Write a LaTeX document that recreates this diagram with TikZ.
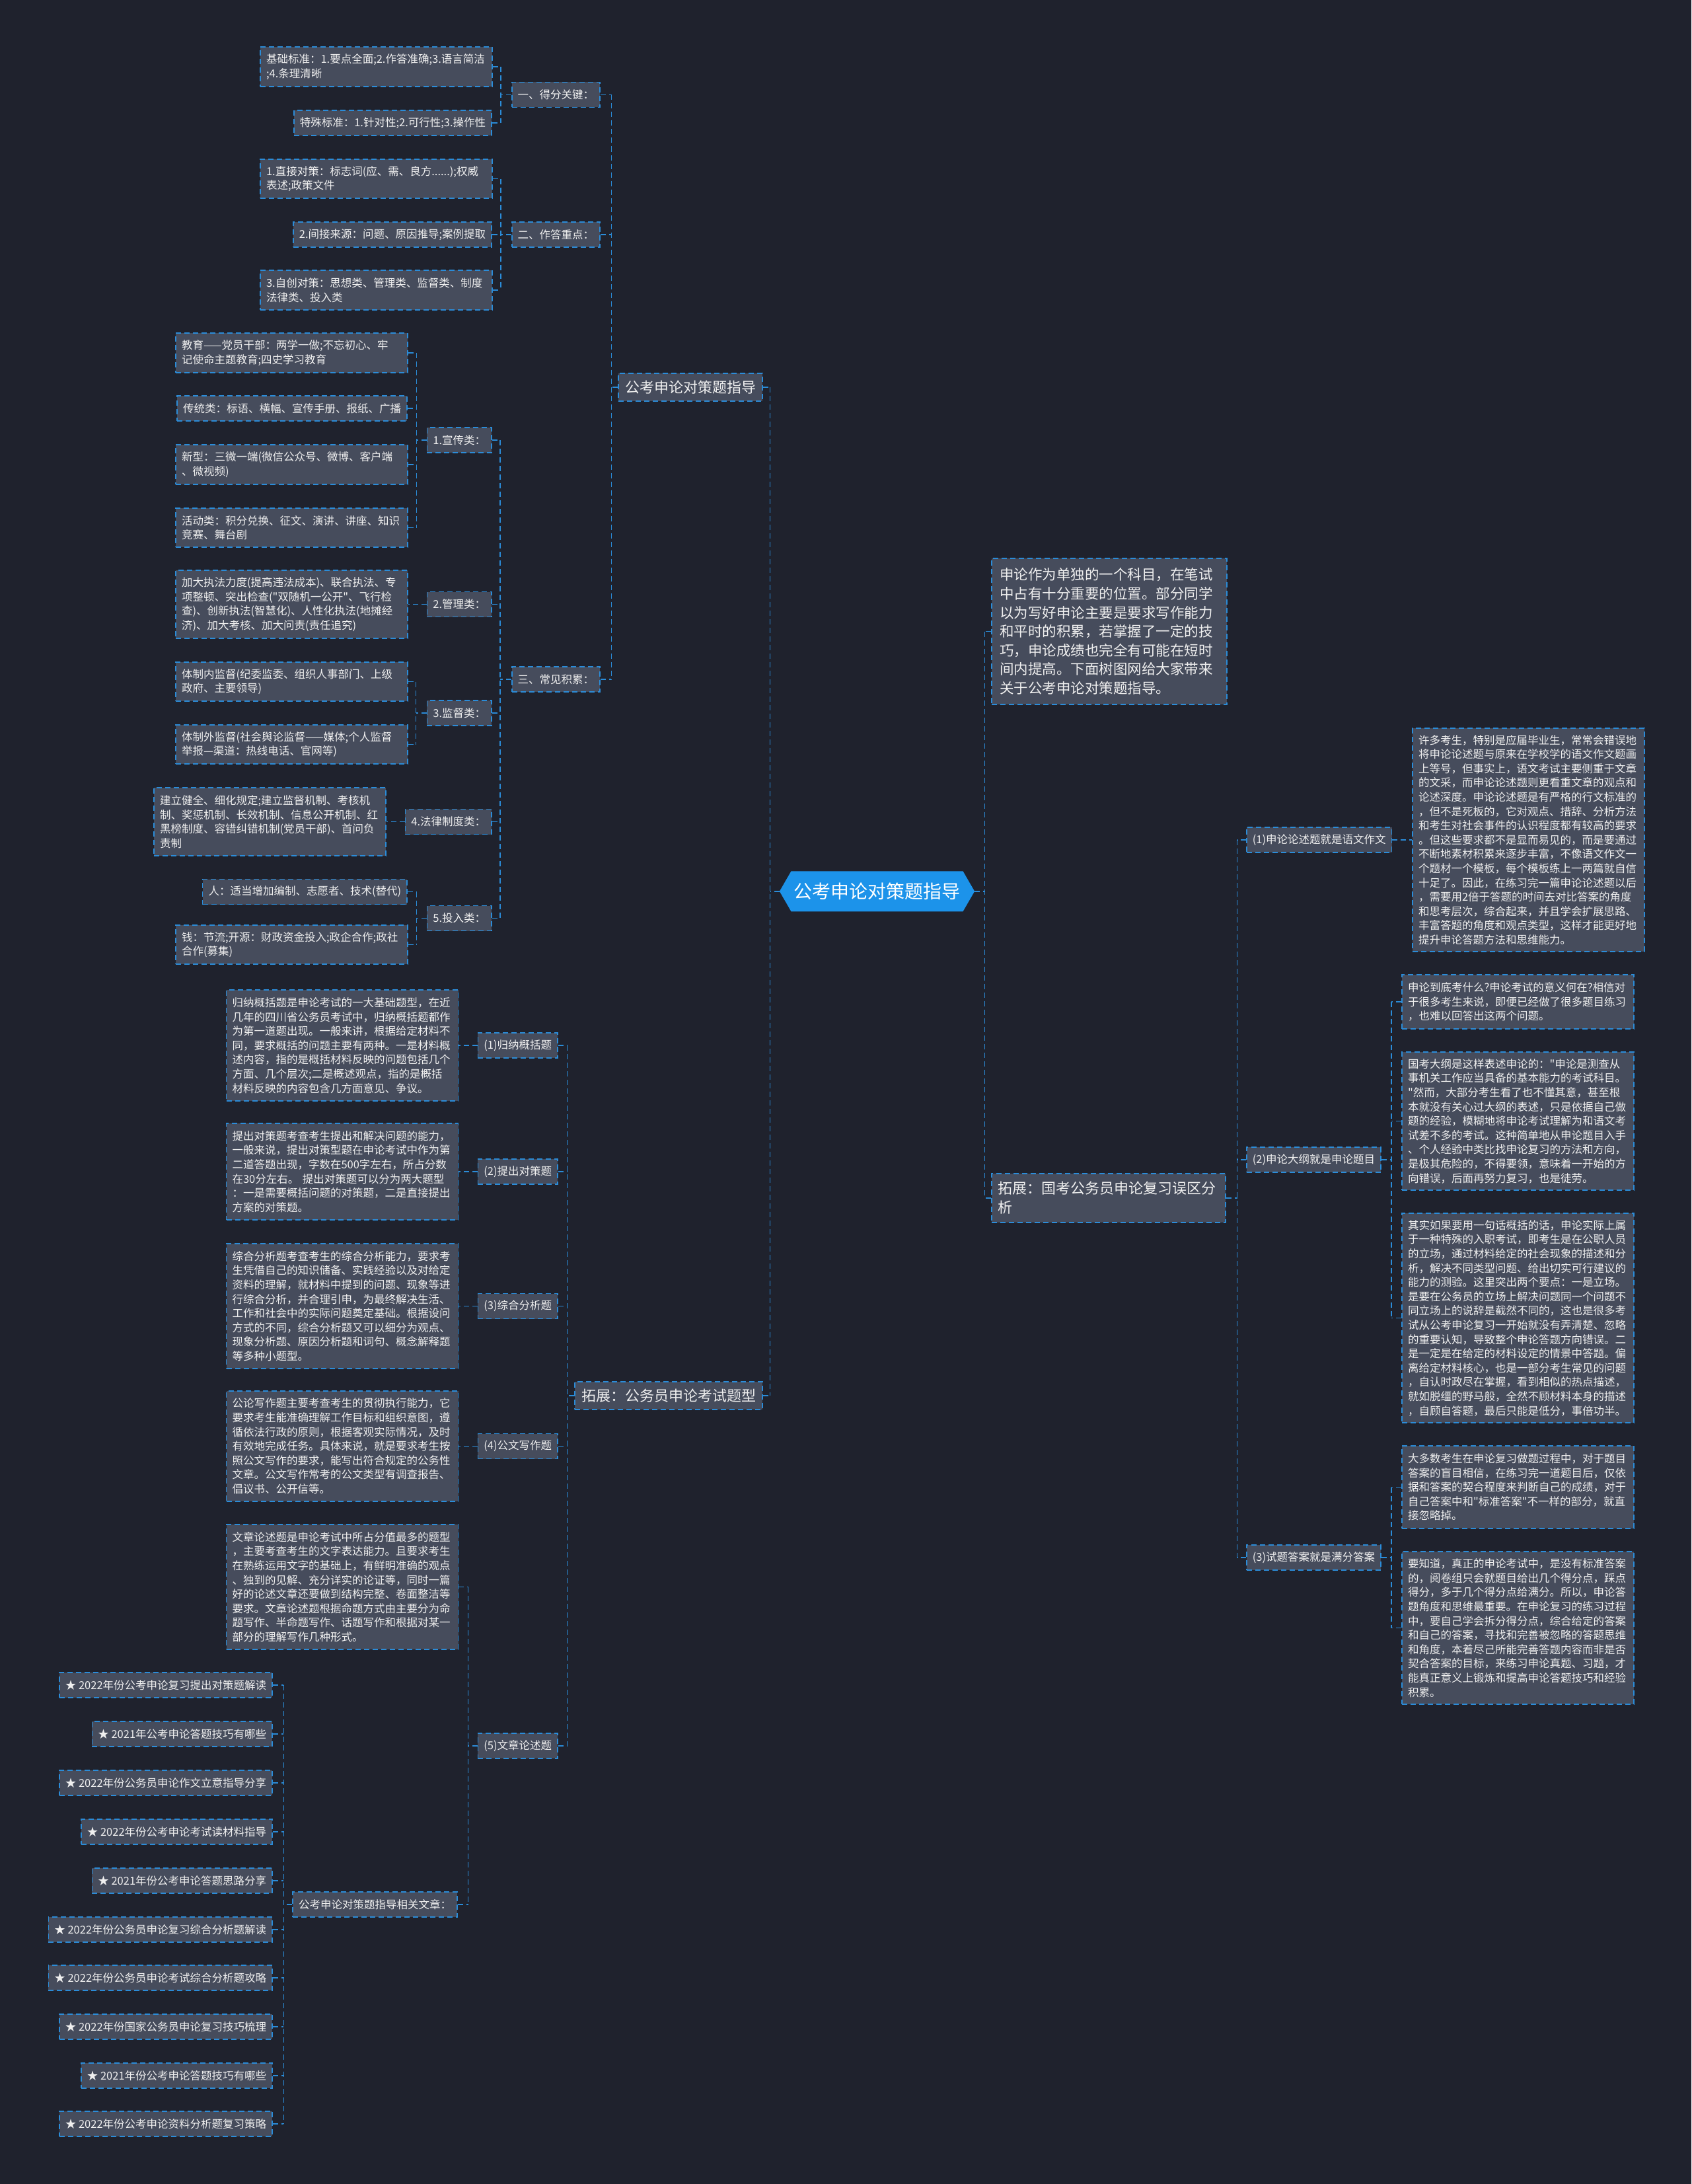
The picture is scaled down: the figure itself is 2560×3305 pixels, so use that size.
\documentclass[tikz,border=0pt]{standalone}
\usepackage{fontspec}
\newfontfamily\nf{Noto Sans CJK SC}
\usetikzlibrary{calc,shapes.symbols}
\definecolor{bg}{HTML}{1F222D}
\definecolor{nodefill}{HTML}{464C5C}
\definecolor{bd}{HTML}{2B8CD8}
\definecolor{fg}{HTML}{EFEFEF}
\definecolor{cfill}{HTML}{1C93EA}
\newcommand\fsS{\nf\fontsize{16.5}{21.6}\selectfont}
\newcommand\fsM{\nf\fontsize{21.5}{28.6}\selectfont}
\newcommand\fsL{\nf\fontsize{22}{29}\selectfont}
\newcommand\fsC{\nf\fontsize{28}{34}\selectfont}
\newcommand\brL[5]{%
  \coordinate (#1v) at ($(#1.west)+(-#2,0)$);
  \draw[conn] (#1.west) -- (#1v);
  \draw[conn] (#3.east -| #1v) -- (#4.east -| #1v);
  \foreach \ch in {#5}{\draw[conn] (\ch.east) -- (\ch.east -| #1v);}%
}
\newcommand\brR[5]{%
  \coordinate (#1v) at ($(#1.east)+(#2,0)$);
  \draw[conn] (#1.east) -- (#1v);
  \draw[conn] (#3.west -| #1v) -- (#4.west -| #1v);
  \foreach \ch in {#5}{\draw[conn] (\ch.west) -- (\ch.west -| #1v);}%
}
\begin{document}
\begin{tikzpicture}[x=1pt,y=-1pt,
  base/.style={draw=bd, fill=nodefill, dash pattern=on 8pt off 5pt, line width=1.6pt, text=fg, inner ysep=6pt, font=\fsS},
  box/.style={base, text width=333pt, inner xsep=9pt, align=left},
  tbox/.style={base, inner xsep=9pt, minimum height=38pt},
  lone/.style={base, font=\fsL, inner xsep=10pt, minimum height=42pt},
  conn/.style={draw=bd, dash pattern=on 8pt off 5pt, line width=1.6pt},
]
\useasboundingbox (0,0) rectangle (2560,3305);
\fill[bg] (0,0) rectangle (2560,3305);

% ---------- root ----------
\node[signal, signal to=west and east, signal pointer angle=120, fill=cfill, draw=none, text=white, font=\fsC, minimum width=287, minimum height=61, inner xsep=4pt] (root) at (1327.5,1348.8) {公考申论对策题指导};

% ---------- left branch 1 ----------
\node[lone, anchor=east] (L1a) at (1155,585.7) {公考申论对策题指导};
\node[tbox, anchor=east] (L2a) at (909,143.5) {一、得分关键：};
\node[tbox, anchor=east] (L2b) at (909,354.75) {二、作答重点：};
\node[tbox, anchor=east] (L2c) at (909,1027.9) {三、常见积累：};

\node[box, minimum height=60] (A1) at (569.5,101) {基础标准：1.要点全面;2.作答准确;3.语言简洁\\;4.条理清晰};
\node[tbox, anchor=east] (A2) at (745,186) {特殊标准：1.针对性;2.可行性;3.操作性};

\node[box, minimum height=59] (B1) at (569.5,270.5) {1.直接对策：标志词(应、需、良方......);权威\\表述;政策文件};
\node[tbox, anchor=east] (B2) at (745,354.75) {2.间接来源：问题、原因推导;案例提取};
\node[box, minimum height=60] (B3) at (569.5,439) {3.自创对策：思想类、管理类、监督类、制度\\法律类、投入类};

\node[tbox, anchor=east] (P1) at (745,666.25) {1.宣传类：};
\node[tbox, anchor=east] (P2) at (745,914.5) {2.管理类：};
\node[tbox, anchor=east] (P3) at (745,1079) {3.监督类：};
\node[tbox, anchor=east] (P4) at (745,1243.5) {4.法律制度类：};
\node[tbox, anchor=east] (P5) at (745,1389.5) {5.投入类：};

\node[box, minimum height=60] (C1) at (441.5,534) {教育——党员干部：两学一做;不忘初心、牢\\记使命主题教育;四史学习教育};
\node[tbox, anchor=east] (C2) at (617,618) {传统类：标语、横幅、宣传手册、报纸、广播};
\node[box, minimum height=60] (C3) at (441.5,703) {新型：三微一端(微信公众号、微博、客户端\\、微视频)};
\node[box, minimum height=59] (C4) at (441.5,798.5) {活动类：积分兑换、征文、演讲、讲座、知识\\竞赛、舞台剧};
\node[box, minimum height=103] (D1) at (441.5,914.5) {加大执法力度(提高违法成本)、联合执法、专\\项整顿、突出检查("双随机一公开"、飞行检\\查)、创新执法(智慧化)、人性化执法(地摊经\\济)、加大考核、加大问责(责任追究)};
\node[box, minimum height=59] (E1) at (441.5,1031.5) {体制内监督(纪委监委、组织人事部门、上级\\政府、主要领导)};
\node[box, minimum height=59] (E2) at (441.5,1126.5) {体制外监督(社会舆论监督——媒体;个人监督\\举报—渠道：热线电话、官网等)};
\node[box, minimum height=103] (F1) at (408.5,1243.5) {建立健全、细化规定;建立监督机制、考核机\\制、奖惩机制、长效机制、信息公开机制、红\\黑榜制度、容错纠错机制(党员干部)、首问负\\责制};
\node[tbox, anchor=east] (G1) at (617,1349.5) {人：适当增加编制、志愿者、技术(替代)};
\node[box, minimum height=59] (G2) at (441.5,1429.5) {钱：节流;开源：财政资金投入;政企合作;政社\\合作(募集)};

% ---------- left branch 2 ----------
\node[lone, anchor=east] (L1b) at (1155,2111.9) {拓展：公务员申论考试题型};
\node[tbox, anchor=east] (Q1) at (845,1582) {(1)归纳概括题};
\node[tbox, anchor=east] (Q2) at (845,1773) {(2)提出对策题};
\node[tbox, anchor=east] (Q3) at (845,1976.5) {(3)综合分析题};
\node[tbox, anchor=east] (Q4) at (845,2188.5) {(4)公文写作题};
\node[tbox, anchor=east] (Q5) at (845,2641.75) {(5)文章论述题};

\node[box, minimum height=168] (T1) at (518,1582) {归纳概括题是申论考试的一大基础题型，在近\\几年的四川省公务员考试中，归纳概括题都作\\为第一道题出现。一般来讲，根据给定材料不\\同，要求概括的问题主要有两种。一是材料概\\述内容，指的是概括材料反映的问题包括几个\\方面、几个层次;二是概述观点，指的是概括\\材料反映的内容包含几方面意见、争议。};
\node[box, minimum height=146] (T2) at (518,1773) {提出对策题考查考生提出和解决问题的能力，\\一般来说，提出对策型题在申论考试中作为第\\二道答题出现，字数在500字左右，所占分数\\在30分左右。~提出对策题可以分为两大题型\\：一是需要概括问题的对策题，二是直接提出\\方案的对策题。};
\node[box, minimum height=189] (T3) at (518,1976.5) {综合分析题考查考生的综合分析能力，要求考\\生凭借自己的知识储备、实践经验以及对给定\\资料的理解，就材料中提到的问题、现象等进\\行综合分析，并合理引申，为最终解决生活、\\工作和社会中的实际问题奠定基础。根据设问\\方式的不同，综合分析题又可以细分为观点、\\现象分析题、原因分析题和词句、概念解释题\\等多种小题型。};
\node[box, minimum height=167] (T4) at (518,2188.5) {公论写作题主要考查考生的贯彻执行能力，它\\要求考生能准确理解工作目标和组织意图，遵\\循依法行政的原则，根据客观实际情况，及时\\有效地完成任务。具体来说，就是要求考生按\\照公文写作的要求，能写出符合规定的公务性\\文章。公文写作常考的公文类型有调查报告、\\倡议书、公开信等。};
\node[box, minimum height=189] (T5) at (518,2401.5) {文章论述题是申论考试中所占分值最多的题型\\，主要考查考生的文字表达能力。且要求考生\\在熟练运用文字的基础上，有鲜明准确的观点\\、独到的见解、充分详实的论证等，同时一篇\\好的论述文章还要做到结构完整、卷面整洁等\\要求。文章论述题根据命题方式由主要分为命\\题写作、半命题写作、话题写作和根据对某一\\部分的理解写作几种形式。};
\node[tbox, anchor=east] (R0) at (693,2882) {公考申论对策题指导相关文章：};

\node[tbox, anchor=east] (S1) at (413,2550) {★ 2022年份公考申论复习提出对策题解读};
\node[tbox, anchor=east] (S2) at (413,2624) {★ 2021年公考申论答题技巧有哪些};
\node[tbox, anchor=east] (S3) at (413,2698) {★ 2022年份公务员申论作文立意指导分享};
\node[tbox, anchor=east] (S4) at (413,2772) {★ 2022年份公考申论考试读材料指导};
\node[tbox, anchor=east] (S5) at (413,2846) {★ 2021年份公考申论答题思路分享};
\node[tbox, anchor=east] (S6) at (413,2920) {★ 2022年份公务员申论复习综合分析题解读};
\node[tbox, anchor=east] (S7) at (413,2993) {★ 2022年份公务员申论考试综合分析题攻略};
\node[tbox, anchor=east] (S8) at (413,3067) {★ 2022年份国家公务员申论复习技巧梳理};
\node[tbox, anchor=east] (S9) at (413,3141) {★ 2021年份公考申论答题技巧有哪些};
\node[tbox, anchor=east] (S10) at (413,3214) {★ 2022年份公考申论资料分析题复习策略};

% ---------- right side ----------
\node[base, font=\fsM, text width=332pt, inner xsep=12pt, align=left, minimum height=221] (intro) at (1679,955.5) {申论作为单独的一个科目，在笔试\\中占有十分重要的位置。部分同学\\以为写好申论主要是要求写作能力\\和平时的积累，若掌握了一定的技\\巧，申论成绩也完全有可能在短时\\间内提高。下面树图网给大家带来\\关于公考申论对策题指导。};
\node[base, font=\fsL, text width=334pt, inner xsep=10pt, align=left, minimum height=74, anchor=west] (L1d) at (1500,1813) {拓展：国考公务员申论复习误区分\\析};

\node[tbox, anchor=west] (R1) at (1886,1271) {(1)申论论述题就是语文作文};
\node[tbox, anchor=west] (R2) at (1886,1755.25) {(2)申论大纲就是申论题目};
\node[tbox, anchor=west] (R3) at (1886,2357) {(3)试题答案就是满分答案};

\node[box, minimum height=338] (RT1) at (2313.5,1271) {许多考生，特别是应届毕业生，常常会错误地\\将申论论述题与原来在学校学的语文作文题画\\上等号，但事实上，语文考试主要侧重于文章\\的文采，而申论论述题则更看重文章的观点和\\论述深度。申论论述题是有严格的行文标准的\\，但不是死板的，它对观点、措辞、分析方法\\和考生对社会事件的认识程度都有较高的要求\\。但这些要求都不是显而易见的，而是要通过\\不断地素材积累来逐步丰富，不像语文作文一\\个题材一个模板，每个模板练上一两篇就自信\\十足了。因此，在练习完一篇申论论述题以后\\，需要用2倍于答题的时间去对比答案的角度\\和思考层次，综合起来，并且学会扩展思路、\\丰富答题的角度和观点类型，这样才能更好地\\提升申论答题方法和思维能力。};
\node[box, minimum height=82] (RT2a) at (2297.5,1516) {申论到底考什么?申论考试的意义何在?相信对\\于很多考生来说，即便已经做了很多题目练习\\，也难以回答出这两个问题。};
\node[box, minimum height=209] (RT2b) at (2297.5,1696.5) {国考大纲是这样表述申论的："申论是测查从\\事机关工作应当具备的基本能力的考试科目。\\"然而，大部分考生看了也不懂其意，甚至根\\本就没有关心过大纲的表述，只是依据自己做\\题的经验，模糊地将申论考试理解为和语文考\\试差不多的考试。这种简单地从申论题目入手\\、个人经验中类比找申论复习的方法和方向，\\是极其危险的，不得要领，意味着一开始的方\\向错误，后面再努力复习，也是徒劳。};
\node[box, minimum height=317] (RT2c) at (2297.5,1994.5) {其实如果要用一句话概括的话，申论实际上属\\于一种特殊的入职考试，即考生是在公职人员\\的立场，通过材料给定的社会现象的描述和分\\析，解决不同类型问题、给出切实可行建议的\\能力的测验。这里突出两个要点：一是立场。\\是要在公务员的立场上解决问题同一个问题不\\同立场上的说辞是截然不同的，这也是很多考\\试从公考申论复习一开始就没有弄清楚、忽略\\的重要认知，导致整个申论答题方向错误。二\\是一定是在给定的材料设定的情景中答题。偏\\离给定材料核心，也是一部分考生常见的问题\\，自认时政尽在掌握，看到相似的热点描述，\\就如脱缰的野马般，全然不顾材料本身的描述\\，自顾自答题，最后只能是低分，事倍功半。};
\node[box, minimum height=125] (RT3a) at (2297.5,2250.5) {大多数考生在申论复习做题过程中，对于题目\\答案的盲目相信，在练习完一道题目后，仅依\\据和答案的契合程度来判断自己的成绩，对于\\自己答案中和"标准答案"不一样的部分，就直\\接忽略掉。};
\node[box, minimum height=231] (RT3b) at (2297.5,2463.5) {要知道，真正的申论考试中，是没有标准答案\\的，阅卷组只会就题目给出几个得分点，踩点\\得分，多于几个得分点给满分。所以，申论答\\题角度和思维最重要。在申论复习的练习过程\\中，要自己学会拆分得分点，综合给定的答案\\和自己的答案，寻找和完善被忽略的答题思维\\和角度，本着尽己所能完善答题内容而非是否\\契合答案的目标，来练习申论真题、习题，才\\能真正意义上锻炼和提高申论答题技巧和经验\\积累。};

% ---------- connectors ----------
\brL{root}{14}{L1a}{L1b}{L1a,L1b}
\brL{L1a}{10}{L2a}{L2c}{L2a,L2b,L2c}
\brL{L2a}{16}{A1}{A2}{A1,A2}
\brL{L2b}{16}{B1}{B3}{B1,B2,B3}
\brL{L2c}{17}{P1}{P5}{P1,P2,P3,P4,P5}
\brL{P1}{15}{C1}{C4}{C1,C2,C3,C4}
\draw[conn] (P2.west) -- (D1.east);
\brL{P3}{16}{E1}{E2}{E1,E2}
\draw[conn] (P4.west) -- (F1.east);
\brL{P5}{15}{G1}{G2}{G1,G2}
\brL{L1b}{11}{Q1}{Q5}{Q1,Q2,Q3,Q4,Q5}
\draw[conn] (Q1.west) -- (T1.east);
\draw[conn] (Q2.west) -- (T2.east);
\draw[conn] (Q3.west) -- (T3.east);
\draw[conn] (Q4.west) -- (T4.east);
\brL{Q5}{14}{T5}{R0}{T5,R0}
\brL{R0}{13}{S1}{S10}{S1,S2,S3,S4,S5,S6,S7,S8,S9,S10}

\brR{root}{15}{intro}{L1d}{intro,L1d}
\brR{L1d}{17}{R1}{R3}{R1,R2,R3}
\draw[conn] (R1.east) -- (RT1.west);
\brR{R2}{15}{RT2a}{RT2c}{RT2a,RT2b,RT2c}
\brR{R3}{15}{RT3a}{RT3b}{RT3a,RT3b}
\end{tikzpicture}
\end{document}
